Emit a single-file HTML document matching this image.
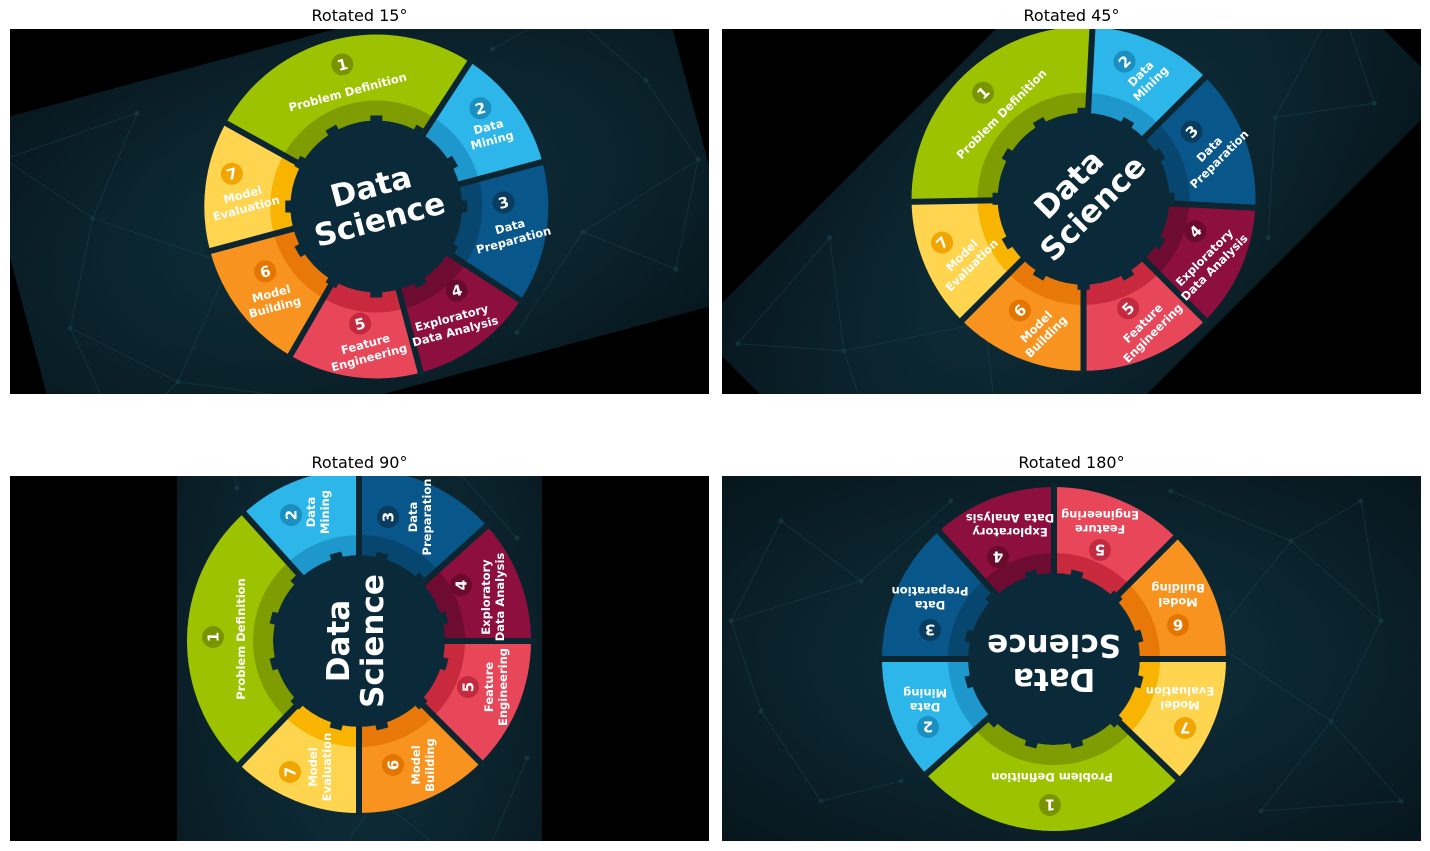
<!DOCTYPE html>
<html><head><meta charset="utf-8">
<style>
html,body{margin:0;padding:0;background:#fff;width:1430px;height:851px;overflow:hidden;}
svg{display:block;}
text{font-family:"DejaVu Sans","Liberation Sans",sans-serif;}
</style></head>
<body>
<svg id="fig" width="1430" height="851" viewBox="0 0 1430 851" xmlns="http://www.w3.org/2000/svg">
<defs>
  <radialGradient id="bg" cx="50%" cy="50%" r="70%">
    <stop offset="0" stop-color="#0f3340"/>
    <stop offset="1" stop-color="#07161d"/>
  </radialGradient>
</defs>
</svg>
<script>
// ---- data ----
const stepNumbers = ["1","2","3","4","5","6","7"];
const stepLabels = [["Problem Definition"],["Data","Mining"],["Data","Preparation"],["Exploratory","Data Analysis"],["Feature","Engineering"],["Model","Building"],["Model","Evaluation"]];
const segStart = [224, 318, 0, 48, 90, 135, 180];
const segEnd   = [318, 360, 48, 90, 135, 180, 224];
const segColor = ["#9dc300","#2db6ea","#08568a","#8c0f3e","#e8475a","#f7931e","#ffd54f"];
const segInner = ["#7f9c00","#1e98cc","#07466f","#6e0b30","#c8293d","#e87808","#f8b400"];
const badgeColor = ["#7a9400","#1a8fc0","#0a3c60","#6a0a2c","#c42a3f","#e47600","#f0a500"];
const numPos = [[4,-146],[126,-68],[124,29],[56,102],[-46,109],[-124,34],[-131,-69]];
const labelPos = [[2,-118],[129,-41],[124,61],[44,134],[-46,137],[-124,64],[-126,-39]];
const angles = [15, 45, 90, 180];
const titles = ["Rotated 15°","Rotated 45°","Rotated 90°","Rotated 180°"];
const panelX = [10, 722, 10, 722];
const panelY = [29, 29, 476, 476];

const NS = "http://www.w3.org/2000/svg";
const svg = document.getElementById("fig");
const W = 699, H = 365, CX = 367, CY = 182;
function el(tag, attrs, parent){ const e=document.createElementNS(NS,tag); for(const k in attrs) e.setAttribute(k,attrs[k]); if(parent) parent.appendChild(e); return e; }
function pt(r,a){ const t=a*Math.PI/180; return [CX+r*Math.cos(t), CY+r*Math.sin(t)]; }
function arc(r0,r1,a0,a1){
  const p1=pt(r1,a0),p2=pt(r1,a1),p3=pt(r0,a1),p4=pt(r0,a0);
  const lg=(a1-a0)>180?1:0;
  return `M${p1[0]},${p1[1]} A${r1},${r1} 0 ${lg} 1 ${p2[0]},${p2[1]} L${p3[0]},${p3[1]} A${r0},${r0} 0 ${lg} 0 ${p4[0]},${p4[1]} Z`;
}

function drawWheel(g){
  const bgr = el("rect",{x:0,y:0,width:W,height:H,fill:"url(#bg)"},g);
  
  
  const net = el("g",{stroke:"#1f4a58","stroke-width":0.8,opacity:0.5},g);
  
  
  const nodes=[[20,40],[90,120],[40,220],[130,300],[60,340],[160,30],[210,200],[600,40],[660,130],[560,260],[640,320],[520,60],[690,220],[250,350],[470,340]];
  for(let i=0;i<nodes.length;i++){ for(let j=i+1;j<nodes.length;j++){ const d=Math.hypot(nodes[i][0]-nodes[j][0],nodes[i][1]-nodes[j][1]); if(d<150) el("line",{x1:nodes[i][0],y1:nodes[i][1],x2:nodes[j][0],y2:nodes[j][1]},net);} el("circle",{cx:nodes[i][0],cy:nodes[i][1],r:2,fill:"#1f4a58"},net);}
  for(let i=0;i<segStart.length;i++){
    const s = el("path",{d:arc(86,172,segStart[i],segEnd[i]),fill:segColor[i]},g);
    
    
    const s2 = el("path",{d:arc(86,106,segStart[i],segEnd[i]),fill:segInner[i]},g);
    
    
  }
  for(let i=0;i<segStart.length;i++){
    const a=pt(80,segStart[i]), b=pt(176,segStart[i]);
    const ln = el("line",{x1:a[0],y1:a[1],x2:b[0],y2:b[1],stroke:"#0b2631","stroke-width":6},g);
    
    
  }
  const gear = el("g",{},g);
  
  
  el("circle",{cx:CX,cy:CY,r:85,fill:"#0a2a3a"},gear);
  for(let a=15;a<375;a+=30){ const p=pt(86,a); el("rect",{x:p[0]-6,y:p[1]-5,width:12,height:10,fill:"#0a2a3a",transform:`rotate(${a+90} ${p[0]} ${p[1]})`},gear); }
  const t1 = el("text",{x:CX,y:CY-10,"text-anchor":"middle","font-size":31,"font-weight":"bold",fill:"#fff"},g);
  t1.textContent="Data";
  
  
  const t2 = el("text",{x:CX,y:CY+24,"text-anchor":"middle","font-size":31,"font-weight":"bold",fill:"#fff"},g);
  t2.textContent="Science";
  
  
  for(let i=0;i<stepNumbers.length;i++){
    const b = el("circle",{cx:CX+numPos[i][0],cy:CY+numPos[i][1],r:11,fill:badgeColor[i]},g);
    
    
    const n = el("text",{x:CX+numPos[i][0],y:CY+numPos[i][1]+5.5,"text-anchor":"middle","font-size":15,"font-weight":"bold",fill:"#fff"},g);
    n.textContent=stepNumbers[i];
    
    
    const lines=stepLabels[i];
    const y0 = CY+labelPos[i][1] - (lines.length-1)*7 + 4;
    const lt = el("text",{x:CX+labelPos[i][0],y:y0,"text-anchor":"middle","font-size":11.5,"font-weight":"bold",fill:"#fff"},g);
    
    
    lines.forEach((ln,k)=>{ const ts=el("tspan",{x:CX+labelPos[i][0],dy:k===0?0:14},lt); ts.textContent=ln; });
  }
}

for(let p=0;p<angles.length;p++){
  const panel = el("svg",{x:panelX[p],y:panelY[p],width:W,height:H,viewBox:`0 0 ${W} ${H}`,overflow:"hidden"},svg);
  
  
  const blk = el("rect",{x:0,y:0,width:W,height:H,fill:"#000"},panel);
  
  
  const rot = el("g",{transform:`rotate(${-angles[p]} ${W/2} ${H/2})`},panel);
  
  
  drawWheel(rot);
  const tt = el("text",{x:panelX[p]+W/2,y:panelY[p]-8,"text-anchor":"middle","font-size":16,fill:"#000"},svg);
  tt.textContent=titles[p];
  
  
}
</script>
</body></html>
